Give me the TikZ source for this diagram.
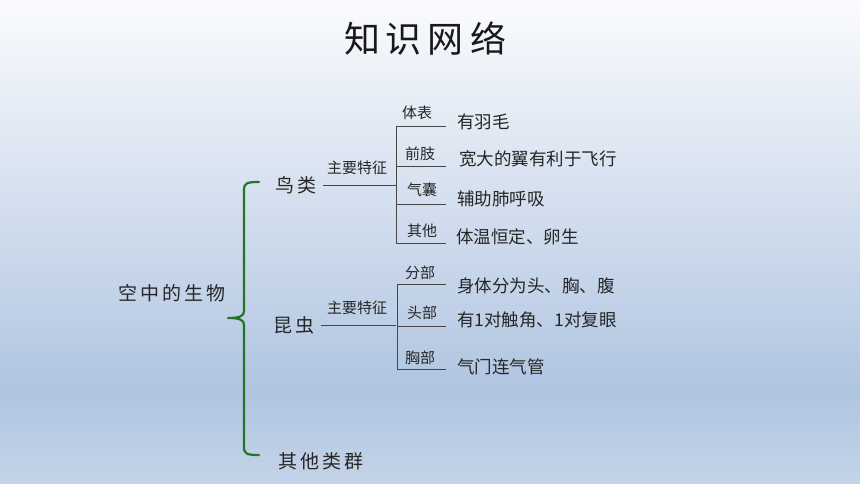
\documentclass[tikz,border=0pt]{standalone}
\usepackage{fontspec}
\setmainfont{Noto Sans CJK SC}
\newfontfamily\cjk{Noto Sans CJK SC}
\definecolor{bgtop}{RGB}{250,251,253}
\definecolor{bgmid}{RGB}{176,197,225}
\definecolor{bgbot}{RGB}{196,212,232}
\definecolor{bracegreen}{RGB}{36,118,36}
\definecolor{linegray}{RGB}{70,70,70}
\begin{document}
\begin{tikzpicture}[x=1pt,y=-1pt,
  txt/.style={anchor=west,inner sep=0pt,font=\cjk\fontsize{17.5}{17.5}\selectfont,text=black!85},
  big/.style={anchor=west,inner sep=0pt,font=\cjk\fontsize{19}{19}\selectfont,text=black!85},
  small/.style={anchor=west,inner sep=0pt,font=\cjk\fontsize{15}{15}\selectfont,text=black!85},
  conn/.style={draw=linegray,line width=0.9pt},
  brace/.style={draw=bracegreen,line width=2.2pt,line join=round,line cap=round}]
% background
\useasboundingbox (0,0) rectangle (860,484);
\shade[top color=bgtop,bottom color=bgmid] (0,0) rectangle (860,390.5);
\shade[top color=bgmid,bottom color=bgbot] (0,390) rectangle (860,484);
% title
\node[inner sep=0pt,font=\cjk\fontsize{36}{36}\selectfont,text=black!90] (title) at (425,39) {知\,识\,网\,络};
% root
\node[big] (root) at (118,293) {空\,中\,的\,生\,物};
\node[big] (bird) at (275,185) {鸟\,类};
\node[big] (insect) at (273,325) {昆\,虫};
\node[big] (other) at (278,461) {其\,他\,类\,群};
% brace
\coordinate (bt) at (259,182);
\coordinate (bm) at (228,318);
\coordinate (bb) at (259,455);
\draw[brace] (bt) .. controls (247,182) and (244,183) .. (244,190) -- (244,311)
  .. controls (244,316) and (240,318) .. (bm)
  .. controls (240,318) and (244,320) .. (244,325) -- (244,447)
  .. controls (244,454) and (247,455) .. (bb);
% bird branch
\node[small] (bfeat) at (327,168) {主要特征};
\coordinate (bj) at (396,185);
\coordinate (bs1) at (396,126);
\coordinate (bs2) at (396,166);
\coordinate (bs3) at (396,204);
\coordinate (bs4) at (396,243);
\coordinate (be1) at (446,126);
\coordinate (be2) at (446,166);
\coordinate (be3) at (446,204);
\coordinate (be4) at (446,243);
\draw[conn] ([xshift=6pt]bird.east) -- (bj);
\draw[conn] (bs1) -- (bs4);
\draw[conn] (bs1) -- (be1);
\draw[conn] (bs2) -- (be2);
\draw[conn] (bs3) -- (be3);
\draw[conn] (bs4) -- (be4);
\node[small] (bl1) at (402,113) {体表};
\node[small] (bl2) at (405,154) {前肢};
\node[small] (bl3) at (407,190) {气囊};
\node[small] (bl4) at (407,231) {其他};
\node[txt] (bt1) at (457,122) {有羽毛};
\node[txt] (bt2) at (459,159) {宽大的翼有利于飞行};
\node[txt] (bt3) at (457,199) {辅助肺呼吸};
\node[txt] (bt4) at (456,237) {体温恒定、卵生};
% insect branch
\node[small] (ifeat) at (327,308) {主要特征};
\coordinate (ij) at (396,325);
\coordinate (is1) at (397,284);
\coordinate (is2) at (397,326);
\coordinate (is3) at (397,369);
\coordinate (ie1) at (446,284);
\coordinate (ie2) at (446,326);
\coordinate (ie3) at (446,369);
\draw[conn] ([xshift=6pt]insect.east) -- (ij);
\draw[conn] (is1) -- (is3);
\draw[conn] (is1) -- (ie1);
\draw[conn] (is2) -- (ie2);
\draw[conn] (is3) -- (ie3);
\node[small] (il1) at (405,273) {分部};
\node[small] (il2) at (407,313) {头部};
\node[small] (il3) at (405,358) {胸部};
\node[txt] (it1) at (457,286) {身体分为头、胸、腹};
\node[txt] (it2) at (457,320) {有1对触角、1对复眼};
\node[txt] (it3) at (457,367) {气门连气管};
\end{tikzpicture}
\end{document}
